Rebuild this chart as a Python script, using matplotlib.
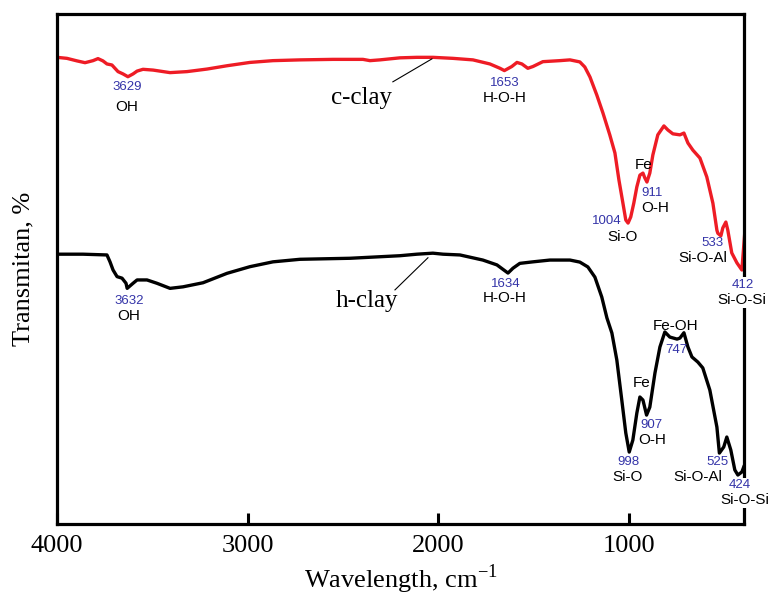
import matplotlib
matplotlib.use("Agg")
import matplotlib.pyplot as plt

# c-clay (red) spectrum: wavenumber (cm-1) and transmittance (arb. %)
c_wn = [4000, 3948, 3895, 3853, 3811, 3785, 3759, 3738, 3712, 3696, 3680, 3654,
        3628, 3601, 3580, 3549, 3496, 3407, 3318, 3213, 3108, 2988, 2867, 2725,
        2552, 2395, 2358, 2306, 2201, 2112, 2028, 1923, 1818, 1729, 1676, 1653,
        1614, 1587, 1561, 1530, 1503, 1451, 1362, 1309, 1257, 1231, 1204, 1168,
        1136, 1100, 1073, 1052, 1031, 1016, 1004, 990, 974, 958, 942, 926, 916,
        905, 890, 874, 848, 816, 795, 769, 732, 711, 690, 664, 627, 591, 559,
        538, 533, 517, 507, 491, 481, 460, 433, 407, 392]
c_T = [91.5, 91.3, 90.8, 90.45, 90.85, 91.25, 90.8, 90.2, 90.0, 89.35, 88.7, 88.25,
       87.7, 88.25, 88.8, 89.15, 89.0, 88.5, 88.7, 89.2, 89.85, 90.5, 90.85, 91.0,
       91.1, 91.1, 90.85, 91.0, 91.4, 91.5, 91.5, 91.3, 91.0, 90.2, 89.35, 88.9,
       89.7, 90.5, 90.2, 89.35, 89.7, 90.65, 90.85, 91.0, 90.6, 89.6, 87.65, 84.1,
       80.6, 76.3, 72.75, 67.45, 62.9, 59.6, 59.0, 60.2, 62.9, 66.1, 68.4, 68.8,
       67.85, 67.05, 68.8, 72.35, 76.3, 78.05, 77.25, 76.5, 76.3, 76.65, 74.7,
       73.3, 71.75, 68.05, 62.9, 57.6, 57.0, 56.5, 58.05, 59.2, 57.65, 53.15,
       51.2, 49.8, 57.0]

# h-clay (black) spectrum
h_wn = [4000, 3864, 3738, 3722, 3706, 3685, 3659, 3638, 3632, 3601, 3580, 3528,
        3476, 3407, 3339, 3234, 3108, 2988, 2867, 2725, 2463, 2201, 2112, 2028,
        1975, 1886, 1766, 1692, 1634, 1608, 1572, 1503, 1414, 1309, 1257, 1215,
        1178, 1142, 1115, 1089, 1063, 1037, 1016, 998, 979, 958, 942, 926, 907,
        890, 863, 837, 811, 785, 747, 732, 711, 690, 669, 638, 612, 575, 538,
        525, 502, 486, 465, 444, 428, 407, 397]
h_T = [52.9, 52.9, 52.75, 51.4, 49.8, 48.5, 48.2, 47.2, 46.2, 47.2, 47.85, 47.85,
       47.2, 46.2, 46.5, 47.3, 49.15, 50.45, 51.4, 51.9, 52.1, 52.6, 52.9, 53.1,
       52.9, 52.75, 51.75, 50.8, 49.2, 50.15, 51.1, 51.4, 51.75, 51.75, 51.35, 50.4,
       48.4, 44.5, 40.4, 37.45, 32.15, 24.3, 17.85, 14.1, 16.45, 21.75, 24.9, 24.3,
       21.35, 22.9, 29.6, 34.7, 37.65, 36.65, 36.25, 36.45, 37.5, 34.7, 32.75,
       31.75, 30.6, 26.25, 19.0, 13.9, 15.1, 17.05, 14.5, 10.6, 9.6, 10.2, 11.2]

# peak annotations: (number text, group text, x, y_number, y_group, x_group)
c_peaks = [("3629", "OH", 3633, 85.7, 81.8, 3633),
           ("1653", "H-O-H", 1650, 86.5, 83.5, 1650),
           ("911", "O-H", 879, 64.9, 62.0, 863),
           ("1004", "Si-O", 1115, 59.4, 56.3, 1031),
           ("533", "Si-O-Al", 559, 55.1, 52.2, 612),
           ("412", "Si-O-Si", 402, 46.9, 43.9, 407)]
h_peaks = [("3632", "OH", 3622, 43.7, 40.8, 3622),
           ("1634", "H-O-H", 1645, 47.1, 44.3, 1650),
           ("907", "O-H", 879, 19.4, 16.5, 879),
           ("998", "Si-O", 1000, 12.2, 9.2, 1005),
           ("525", "Si-O-Al", 533, 12.2, 9.2, 638),
           ("424", "Si-O-Si", 418, 7.6, 4.7, 392)]
c_extra = [("Fe", 923, 70.4)]
h_extra = [("Fe", 932, 27.6), ("Fe-OH", 753, 38.8)]
h_747 = ("747", 753, 34.1)

xticks = [4000, 3000, 2000, 1000]

RED = "#ee1c25"
BLUE = "#3434a8"
serif = "Liberation Serif"
sans = "Liberation Sans"

fig = plt.figure(figsize=(7.8, 6.0), dpi=100)
ax = fig.add_axes([0.0731, 0.1267, 0.8807, 0.85])

ax.plot(c_wn, c_T, color=RED, lw=2.4, solid_joinstyle="round", zorder=2)
ax.plot(h_wn, h_T, color="black", lw=2.4, solid_joinstyle="round", zorder=2)

ax.set_xlim(4000, 396)
ax.set_ylim(0, 100)

for sp in ax.spines.values():
    sp.set_linewidth(2.3)
ax.set_yticks([])
ax.set_xticks(xticks)
ax.set_xticklabels([str(t) for t in xticks], fontfamily=serif, fontsize=19)
ax.tick_params(axis="x", direction="in", length=8, width=2.2, pad=8)

ax.set_ylabel("Transmitan, %", fontfamily=serif, fontsize=19, labelpad=16)
ax.set_xlabel("Wavelength, cm$^{\\mathregular{-1}}$", fontfamily=serif, fontsize=19, labelpad=4)

bb = dict(facecolor="white", edgecolor="none", pad=1.0)

def put_peaks(peaks, white_last):
    for i, (num, grp, x, yn, yg, xg) in enumerate(peaks):
        kw = dict(bbox=bb) if (white_last and i == len(peaks) - 1) else {}
        ax.text(x, yn, num, color=BLUE, fontsize=9.5, fontfamily=sans,
                ha="center", va="center", zorder=5, **kw)
        ax.text(xg, yg, grp, color="black", fontsize=11, fontfamily=sans,
                ha="center", va="center", zorder=5, **kw)

put_peaks(c_peaks, True)
put_peaks(h_peaks, True)
for t, x, y in c_extra + h_extra:
    ax.text(x, y, t, color="black", fontsize=11, fontfamily=sans,
            ha="center", va="center", zorder=5)
ax.text(h_747[1], h_747[2], h_747[0], color=BLUE, fontsize=9.5, fontfamily=sans,
        ha="center", va="center", zorder=5)

# curve labels with leader lines
ax.text(2400, 83.5, "c-clay", fontfamily=serif, fontsize=18, ha="center", va="center")
ax.plot([2238, 2033], [86.7, 91.2], color="black", lw=0.8)
ax.text(2374, 43.7, "h-clay", fontfamily=serif, fontsize=18, ha="center", va="center")
ax.plot([2227, 2054], [45.9, 52.2], color="black", lw=0.8)

fig.savefig("out.png", dpi=100)
